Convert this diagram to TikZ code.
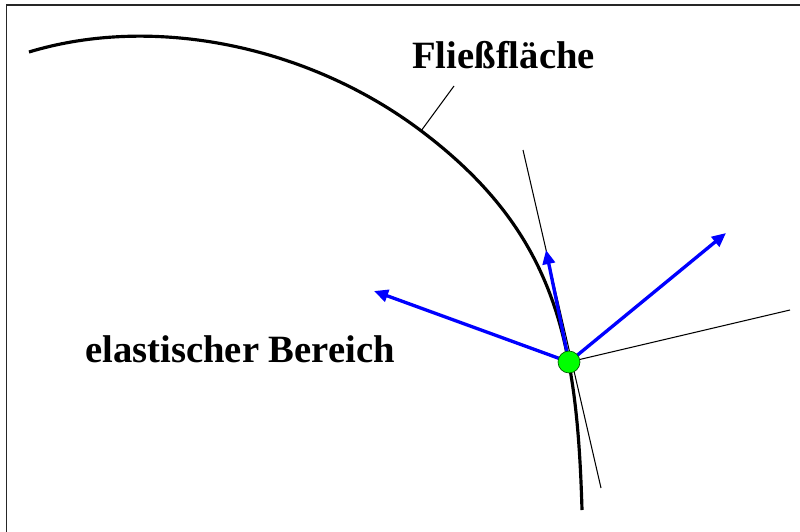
\documentclass[tikz,border=0pt]{standalone}
\usepackage{fontspec}
\setmainfont{Liberation Serif}
\usetikzlibrary{arrows.meta}

\begin{document}
\begin{tikzpicture}[x=0.02cm,y=-0.02cm,
      lbl/.style={font=\fontsize{22}{25}\selectfont\bfseries,inner sep=0pt,anchor=base west},
      fine/.style={line width=0.6pt},
      vec/.style={-{Triangle[length=8pt,width=7pt]},blue,line width=1.9pt},
      pt/.style={circle,draw=green!35!black,fill=green,line width=0.4pt,
                 minimum size=12.5pt,inner sep=0pt}]
    \useasboundingbox (0,0) rectangle (800,531);
    \draw[line width=1.1pt,black!85] (6.5,545) |- (815,5);

    % yield surface
    \draw[line width=1.8pt] (29,52) .. controls (154,14) and (308,46) .. (420,130)
                                  .. controls (556,232) and (577,340) .. (582,510);

    \coordinate (P)  at (569,362);
    \coordinate (t1) at (523,150);
    \coordinate (t2) at (601,488);
    \coordinate (n1) at (790,310);
    \coordinate (a1) at (374,291);
    \coordinate (a2) at (546,250);
    \coordinate (a3) at (726,233);
    \coordinate (l1) at (454,86);
    \coordinate (l2) at (421,131);

    \draw[fine] (t1) -- (t2);
    \draw[fine] (P) -- (n1);
    \draw[fine] (l1) -- (l2);
    \foreach \b in {a1,a2,a3}
      \draw[vec] (P) -- (\b);
    \node[pt] (dot) at (P) {};

    \node[lbl] (ff) at (412,68)  {Fließfläche};
    \node[lbl] (eb) at (85,362)  {elastischer Bereich};
  \end{tikzpicture}
\end{document}
